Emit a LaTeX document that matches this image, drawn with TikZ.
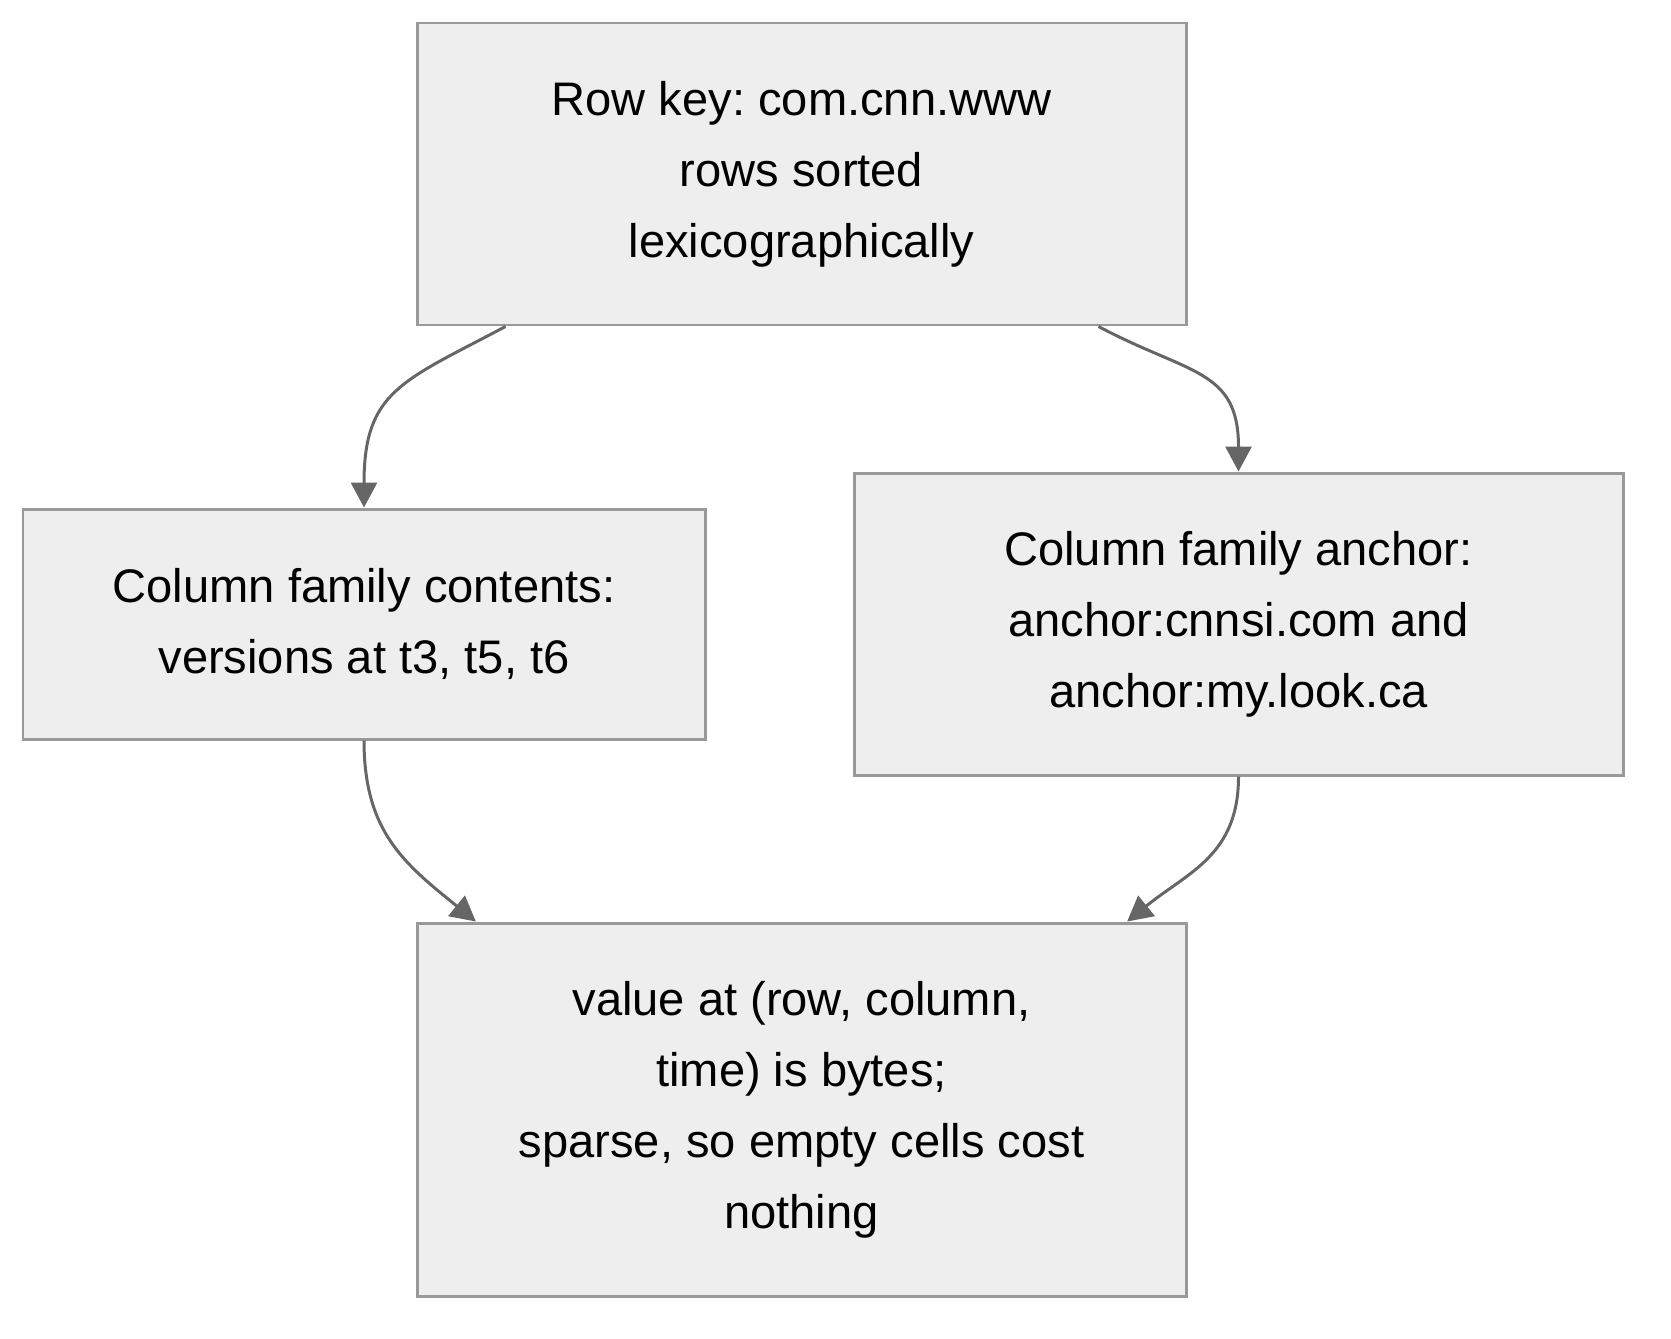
\documentclass[tikz,border=0pt]{standalone}
\usepackage{fontspec}
\setmainfont{Liberation Sans}
\usepackage{tikz}
\usetikzlibrary{arrows.meta}
\frenchspacing

\definecolor{boxfill}{HTML}{EEEEEE}
\definecolor{boxline}{HTML}{999999}
\definecolor{flowline}{HTML}{666666}
\newcommand{\boxfont}{\fontsize{13.4}{20.2}\selectfont}

\begin{document}
\begin{tikzpicture}[x=0.1mm,y=-0.1mm,
  box/.style={draw=boxline,fill=boxfill,line width=0.85pt,align=center,
    inner sep=0pt,font=\boxfont,minimum width=7.69cm,minimum height=3.02cm},
  flow/.style={draw=flowline,line width=0.85pt,
    -{Triangle[length=2.5mm,width=2.6mm]}}]
  \useasboundingbox (0,0) rectangle (1671,1338);
  % boxes
  \node[box] (rowkey) at (801.5,174) {Row key: com.cnn.www\\rows sorted\\lexicographically};
  \node[box,minimum width=6.82cm,minimum height=2.30cm] (contents) at (364,624)
    {Column family contents:\\versions at t3, t5, t6};
  \node[box] (anchor) at (1238.5,624)
    {Column family anchor:\\anchor:cnnsi.com and\\anchor:my.look.ca};
  \node[box,minimum height=3.73cm] (cell) at (801.5,1109.5)
    {value at (row, column,\\time) is bytes;\\sparse, so empty cells cost\\nothing};
  % row key to both families
  \draw[flow] ([xshift=9mm]rowkey.south west) to[out=208,in=90,looseness=1.3] (contents.north);
  \draw[flow] ([xshift=-8.9mm]rowkey.south east) to[out=-28,in=90,looseness=1.3] (anchor.north);
  % both families down to the cell
  \draw[flow] (contents.south) to[out=-90,in=141,looseness=1.1] (cell.150);
  \draw[flow] (anchor.south) to[out=-90,in=39,looseness=1.1] (cell.30);
\end{tikzpicture}
\end{document}
